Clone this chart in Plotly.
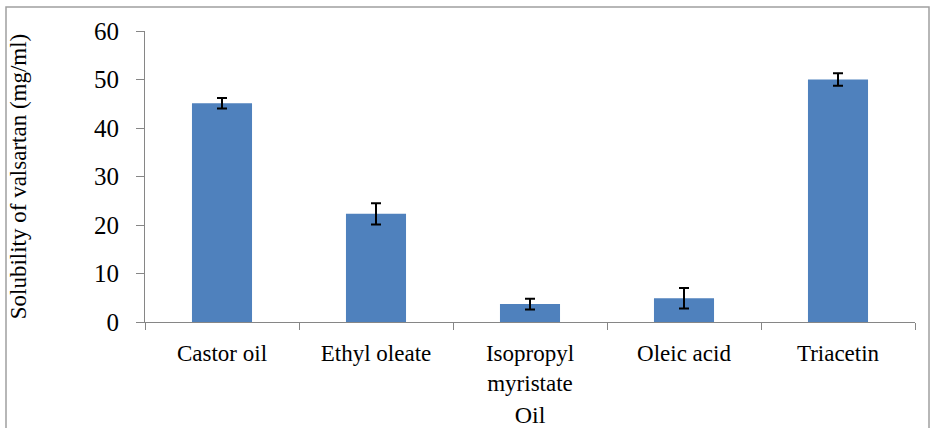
import plotly.graph_objects as go

categories = ["Castor oil", "Ethyl oleate", "Isopropyl<br>myristate", "Oleic acid", "Triacetin"]
solubility = [45.1, 22.3, 3.7, 4.9, 50.0]
sd = [1.1, 2.2, 1.1, 2.1, 1.3]
y_ticks = [0, 10, 20, 30, 40, 50, 60]

W, H = 933, 428
L, R, T, B = 145, 18, 31, 106

fig = go.Figure(go.Bar(
    x=categories, y=solubility,
    marker=dict(color="#4F81BD", line=dict(width=0)),
    width=0.39,
    error_y=dict(type="data", array=sd, visible=True, color="black", thickness=2, width=5),
))

font = "Liberation Serif, Times New Roman, serif"
fig.update_layout(
    width=W, height=H,
    margin=dict(l=L, r=R, t=T, b=B, pad=0, autoexpand=False),
    paper_bgcolor="white", plot_bgcolor="white",
    showlegend=False,
    font=dict(family=font, color="black", size=22),
    xaxis=dict(
        showline=True, linecolor="#868686", linewidth=1,
        ticks="outside", ticklen=7, tickcolor="#868686", tickson="boundaries",
        tickfont=dict(size=23), showgrid=False, automargin=False,
        ticklabelstandoff=10,
        title=dict(text="Oil", font=dict(size=24), standoff=13),
    ),
    yaxis=dict(
        range=[0, 60], tickvals=y_ticks, showline=True, linecolor="#868686", linewidth=1,
        ticks="outside", ticklen=8, tickcolor="#868686", showgrid=False,
        tickfont=dict(size=25), automargin=False, ticklabelstandoff=12,
        title=dict(text="Solubility of valsartan (mg/ml)", font=dict(size=23), standoff=60),
        zeroline=False,
    ),
)

w_plot = W - L - R
h_plot = H - T - B
def px_x(x):
    return (x - L) / w_plot
def px_y(y):
    return (H - B - y) / h_plot

# outer grey frame (bottom edge runs past the image)
fig.add_shape(type="rect", xref="paper", yref="paper",
              x0=px_x(6), x1=px_x(929), y0=px_y(440), y1=px_y(7),
              line=dict(color="#A0A0A0", width=1.5), layer="above")

fig.write_html("out.html", config={"displayModeBar": False},
               post_script="document.body.style.margin='0';document.body.style.overflow='hidden';")
